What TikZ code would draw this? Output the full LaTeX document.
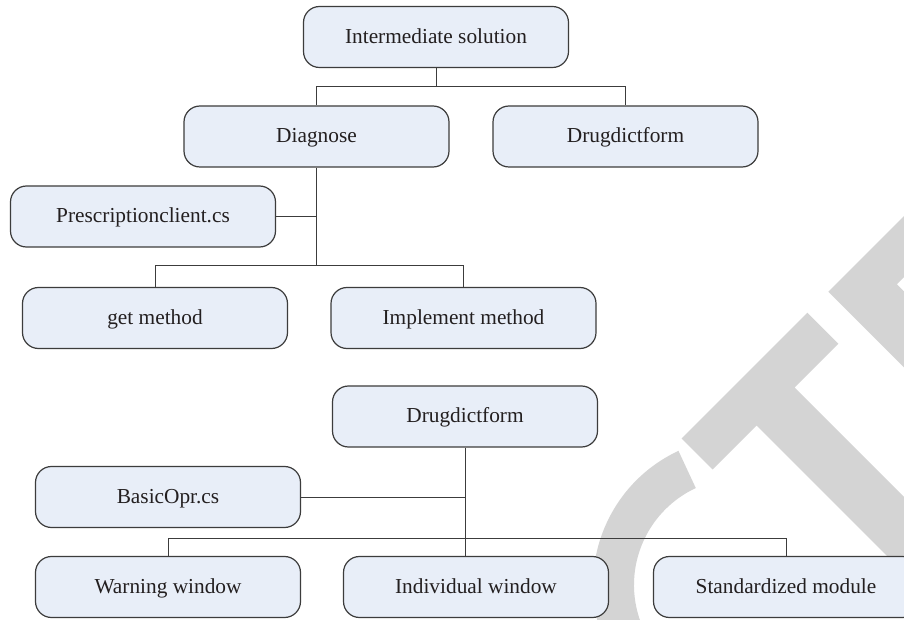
\documentclass[tikz,border=0pt]{standalone}
\usepackage{fontspec}
\setmainfont{Liberation Serif}
\definecolor{boxfill}{HTML}{E8EEF8}
\definecolor{boxline}{HTML}{3C3C3C}
\definecolor{inkgrey}{HTML}{231F20}
\definecolor{stampgrey}{HTML}{D4D4D4}
\begin{document}
\begin{tikzpicture}[x=0.75pt,y=-0.75pt,
  box/.style={draw=boxline, line width=0.9pt, fill=boxfill, rounded corners=12pt,
    minimum width=198.75pt, minimum height=45.75pt, inner sep=0pt,
    text height=10pt, text depth=0.6pt,
    text=inkgrey, font=\fontsize{16}{18}\selectfont},
  link/.style={draw=boxline, line width=0.75pt}]
\useasboundingbox (0,0) rectangle (904,620);
\clip (0,0) rectangle (904,620);
\fill[white] (0,0) rectangle (904,620);

% grey stamp lettering in the background
\begin{scope}[fill=stampgrey]
  % letter T
  \fill (681.5,438.5) -- (807.25,312.75) -- (838.25,343.75) -- (794.5,387.5)
        -- (1003.5,596.5) -- (965.5,634.5) -- (756.5,425.5) -- (712.5,469.5) -- cycle;
  % letter E
  \fill (828.25,291.75) -- (1060,60) -- (1121,60) -- (896.75,284.25)
        -- (1060,447.5) -- (1060,523.5) -- cycle;
  % letter C
  \fill (741,585) ++(-115:148) arc[start angle=-115, end angle=-335, radius=148]
        -- ++(205:41) arc[start angle=-335, end angle=-115, radius=107] -- cycle;
\end{scope}

% first tree
\node[box] (top)   at (436,37)      {Intermediate solution};
\node[box] (diag)  at (316.5,136.5) {Diagnose};
\node[box] (drugA) at (625.5,136.5) {Drugdictform};
\node[box] (presc) at (143,216.5)   {Prescriptionclient.cs};
\node[box] (getm)  at (155,318)     {get method};
\node[box] (impl)  at (463.5,318)   {Implement method};

% second tree
\node[box] (drugB) at (465,416.5)   {Drugdictform};
\node[box] (basic) at (168,497)     {BasicOpr.cs};
\node[box] (warn)  at (168,587)     {Warning window};
\node[box] (indiv) at (476,587)     {Individual window};
\node[box] (std)   at (786,587)     {Standardized module};

\coordinate (j1) at (436,87);
\coordinate (j2) at (316.5,266);
\coordinate (j3) at (465,538);

\draw[link] (top.south) -- (j1);
\draw[link] (diag.north) -- (diag.north |- j1) -- (drugA.north |- j1) -- (drugA.north);
\draw[link] (diag.south) -- (j2);
\draw[link] (presc.east) -- (presc.east -| diag.south);
\draw[link] (getm.north) -- (getm.north |- j2) -- (impl.north |- j2) -- (impl.north);

\draw[link] (drugB.south) -- (drugB.south |- indiv.north);
\draw[link] (basic.east) -- (basic.east -| drugB.south);
\draw[link] (warn.north) -- (warn.north |- j3) -- (std.north |- j3) -- (std.north);
\end{tikzpicture}
\end{document}
